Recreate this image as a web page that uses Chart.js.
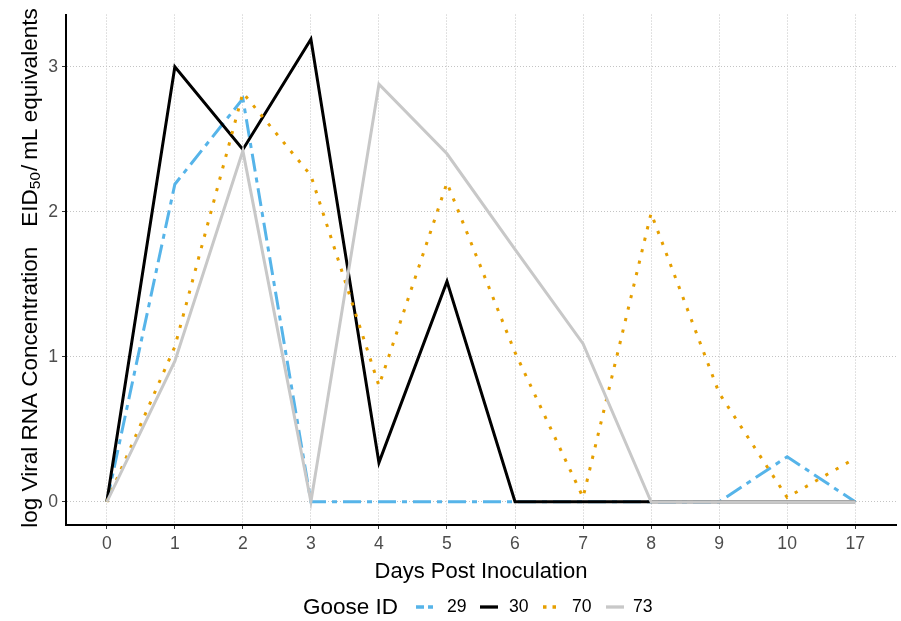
<!DOCTYPE html>
<html>
<head>
<meta charset="utf-8">
<script src="https://cdn.jsdelivr.net/npm/chart.js@4.4.1/dist/chart.umd.min.js"></script>
<style>
  html, body { margin: 0; padding: 0; background: #ffffff; }
  #wrap { position: relative; width: 901px; height: 621px; font-family: "Liberation Sans", Arial, sans-serif; }
  #c { position: absolute; left: 0; top: 0; }
  .lg { position: absolute; white-space: nowrap; color: #000; line-height: 1; }
  .lg svg { position: absolute; }
</style>
</head>
<body>
<div id="wrap">
  <canvas id="c" width="901" height="621"></canvas>
  <div id="legend"></div>
</div>
<script>
// ---- data ----
const days = ['0', '1', '2', '3', '4', '5', '6', '7', '8', '9', '10', '17'];
const goose29 = [0, 2.19, 2.78, 0, 0, 0, 0, 0, 0, 0, 0.31, 0];
const goose30 = [0, 3.00, 2.43, 3.19, 0.27, 1.52, 0, 0, 0, 0, 0, 0];
const goose70 = [0, 1.07, 2.82, 2.25, 0.80, 2.20, 1.03, 0.03, 1.99, 0.75, 0.03, 0.30];
const goose73 = [0, 0.97, 2.42, 0, 2.88, 2.40, 1.74, 1.09, 0, 0, 0, 0];
const gooseIds = ['29', '30', '70', '73'];
const yTicks = [0, 1, 2, 3];

const xTitle = 'Days Post Inoculation';
const yTitleMain = 'log Viral RNA Concentration';
const yTitleUnitA = 'EID';
const yTitleUnitSub = '50';
const yTitleUnitB = '/';
const yTitleUnitC = 'mL equivalents';
const legendTitle = 'Goose ID';

const FONT = '"Liberation Sans", Arial, sans-serif';
const colors = ['#56B4E9', '#000000', '#E69F00', '#C8C8C8'];
const dashes = [[18, 6, 5, 6], [], [3.2, 8.6], []];
const series = [goose29, goose30, goose70, goose73];

const toPts = arr => arr.map((v, i) => ({ x: i, y: v }));

const datasets = series.map((s, k) => ({
  label: gooseIds[k],
  data: toPts(s),
  borderColor: colors[k],
  backgroundColor: colors[k],
  borderWidth: 3,
  borderDash: dashes[k],
  borderCapStyle: 'butt',
  borderJoinStyle: 'miter',
  pointRadius: 0,
  pointHoverRadius: 0,
  tension: 0,
  fill: false,
  order: 3 - k
}));

const titlesPlugin = {
  id: 'titles',
  afterDraw(chart) {
    const ctx = chart.ctx;
    const area = chart.chartArea;
    ctx.save();
    ctx.fillStyle = '#000';
    // x title
    ctx.font = '22px ' + FONT;
    ctx.textAlign = 'center';
    ctx.textBaseline = 'alphabetic';
    ctx.fillText(xTitle, (area.left + area.right) / 2, 578);

    // y title with subscript
    const big = '22.5px ' + FONT;
    const small = '15.5px ' + FONT;
    const parts = [
      { t: yTitleMain, f: big, dy: 0 },
      { gap: 20 },
      { t: yTitleUnitA, f: big, dy: 0 },
      { t: yTitleUnitSub, f: small, dy: 3 },
      { gap: 1 },
      { t: yTitleUnitB, f: big, dy: 0 },
      { gap: 5 },
      { t: yTitleUnitC, f: big, dy: 0 }
    ];
    let total = 0;
    parts.forEach(p => {
      if (p.gap) { total += p.gap; return; }
      ctx.font = p.f;
      p.w = ctx.measureText(p.t).width;
      total += p.w;
    });
    ctx.translate(37, 268);
    ctx.rotate(-Math.PI / 2);
    ctx.textAlign = 'left';
    let x = -total / 2;
    parts.forEach(p => {
      if (p.gap) { x += p.gap; return; }
      ctx.font = p.f;
      ctx.fillText(p.t, x, p.dy);
      x += p.w;
    });
    ctx.restore();
  }
};

new Chart(document.getElementById('c'), {
  type: 'line',
  data: { datasets },
  options: {
    responsive: false,
    animation: false,
    devicePixelRatio: 1,
    layout: { padding: { left: 0, top: 10, right: 5, bottom: 0 } },
    plugins: { legend: { display: false }, tooltip: { enabled: false } },
    scales: {
      x: {
        type: 'linear',
        min: -0.6,
        max: 11.6,
        afterBuildTicks: s => { s.ticks = days.map((_, i) => ({ value: i })); },
        afterFit: s => { s.height = 96; },
        ticks: {
          autoSkip: false,
          maxRotation: 0,
          padding: 5,
          color: '#4D4D4D',
          font: { family: FONT, size: 17.6 },
          callback: v => days[v]
        },
        grid: {
          color: '#c4c4c4',
          lineWidth: 1,
          drawTicks: true,
          tickLength: 4,
          tickColor: '#333333',
          tickWidth: 1,
          tickBorderDash: []
        },
        border: { display: true, color: '#000', width: 2, dash: [1, 2] }
      },
      y: {
        type: 'linear',
        min: -0.16,
        max: 3.36,
        afterBuildTicks: s => { s.ticks = yTicks.map(v => ({ value: v })); },
        afterFit: s => { s.width = 66; },
        ticks: {
          padding: 4,
          color: '#4D4D4D',
          font: { family: FONT, size: 17.6 },
          callback: v => String(v)
        },
        grid: {
          color: '#c4c4c4',
          lineWidth: 1,
          drawTicks: true,
          tickLength: 4,
          tickColor: '#333333',
          tickWidth: 1,
          tickBorderDash: []
        },
        border: { display: true, color: '#000', width: 2, dash: [1, 2] }
      }
    }
  },
  plugins: [titlesPlugin]
});

// ---- legend (HTML) ----
(function buildLegend() {
  const lg = document.getElementById('legend');
  const y = 607;
  const add = (html, left, top) => {
    const d = document.createElement('div');
    d.className = 'lg';
    d.style.left = left + 'px';
    d.style.top = top + 'px';
    d.innerHTML = html;
    lg.appendChild(d);
    return d;
  };
  const t = add(legendTitle, 303, y - 11);
  t.style.fontSize = '22.5px';
  const sampleX = [416, 480, 543, 606];
  const labelX = [447, 509, 572, 633];
  const svgDash = ['8 4 5 40', '', '3.5 6 3.5 40', ''];
  gooseIds.forEach((id, k) => {
    add('<svg width="18" height="6" style="left:0;top:0"><line x1="0" y1="3" x2="18" y2="3" stroke="' + colors[k] + '" stroke-width="3.3" ' +
      (svgDash[k] ? 'stroke-dasharray="' + svgDash[k] + '"' : '') + '/></svg>', sampleX[k], y - 3);
    const l = add(id, labelX[k], y - 9);
    l.style.fontSize = '17.6px';
  });
})();
</script>
</body>
</html>
